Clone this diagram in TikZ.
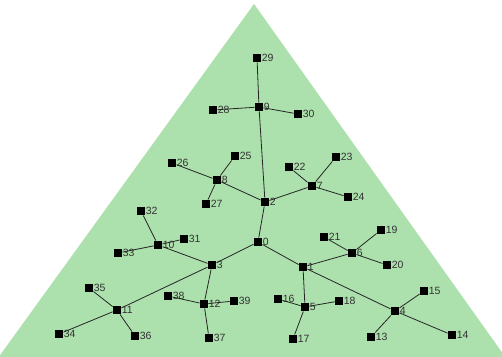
\documentclass[tikz,border=0pt]{standalone}
\usepackage{fontspec}
\setmainfont{Liberation Sans}
\definecolor{fieldgreen}{RGB}{172,224,172}
\newcommand\vtxnode[4]{\node[vtx,label={[lab]east:#4}] (#1) at (#2,#3) {};}
\begin{document}
\begin{tikzpicture}[x=1pt,y=-1pt,
  vtx/.style={fill=black,draw=none,minimum size=8.5pt,inner sep=0pt},
  lab/.style={font=\fontsize{10.5}{10.5}\selectfont,text=black!80,inner sep=0.2pt},
  link/.style={draw=black!85,line width=0.8pt}]
\useasboundingbox (0,0) rectangle (502,356);
\fill[white] (0,0) rectangle (502,356);
\fill[fieldgreen] (254,4) -- (-2,358) -- (506,358) -- cycle;
\vtxnode{n0}{258}{242}{0}
\vtxnode{n1}{303}{267}{1}
\vtxnode{n2}{265}{202}{2}
\vtxnode{n3}{212}{265}{3}
\vtxnode{n4}{395}{311}{4}
\vtxnode{n5}{305}{307}{5}
\vtxnode{n6}{352}{253}{6}
\vtxnode{n7}{312}{186}{7}
\vtxnode{n8}{217}{180}{8}
\vtxnode{n9}{259}{107}{9}
\vtxnode{n10}{158}{245}{10}
\vtxnode{n11}{117}{310}{11}
\vtxnode{n12}{204}{304}{12}
\vtxnode{n13}{371}{337}{13}
\vtxnode{n14}{452}{335}{14}
\vtxnode{n15}{424}{291}{15}
\vtxnode{n16}{278}{299}{16}
\vtxnode{n17}{293}{339}{17}
\vtxnode{n18}{339}{301}{18}
\vtxnode{n19}{381}{230}{19}
\vtxnode{n20}{387}{265}{20}
\vtxnode{n21}{324}{237}{21}
\vtxnode{n22}{289}{167}{22}
\vtxnode{n23}{336}{157}{23}
\vtxnode{n24}{348}{197}{24}
\vtxnode{n25}{235}{156}{25}
\vtxnode{n26}{172}{163}{26}
\vtxnode{n27}{206}{204}{27}
\vtxnode{n28}{213}{110}{28}
\vtxnode{n29}{257}{58}{29}
\vtxnode{n30}{298}{114}{30}
\vtxnode{n31}{184}{239}{31}
\vtxnode{n32}{141}{211}{32}
\vtxnode{n33}{118}{253}{33}
\vtxnode{n34}{59}{334}{34}
\vtxnode{n35}{89}{288}{35}
\vtxnode{n36}{135}{336}{36}
\vtxnode{n37}{209}{338}{37}
\vtxnode{n38}{168}{296}{38}
\vtxnode{n39}{234}{301}{39}
\foreach \a/\b in {n9/n29,n9/n28,n9/n30,n9/n2,
  n8/n25,n8/n26,n8/n27,n8/n2,
  n2/n7,n7/n22,n7/n23,n7/n24,
  n2/n0,n0/n3,n0/n1,
  n3/n10,n10/n32,n10/n33,n10/n31,
  n3/n11,n11/n35,n11/n34,n11/n36,
  n3/n12,n12/n38,n12/n39,n12/n37,
  n1/n6,n6/n21,n6/n19,n6/n20,
  n1/n5,n5/n16,n5/n18,n5/n17,
  n1/n4,n4/n15,n4/n14,n4/n13}
  \draw[link] (\a) -- (\b);
\end{tikzpicture}
\end{document}
